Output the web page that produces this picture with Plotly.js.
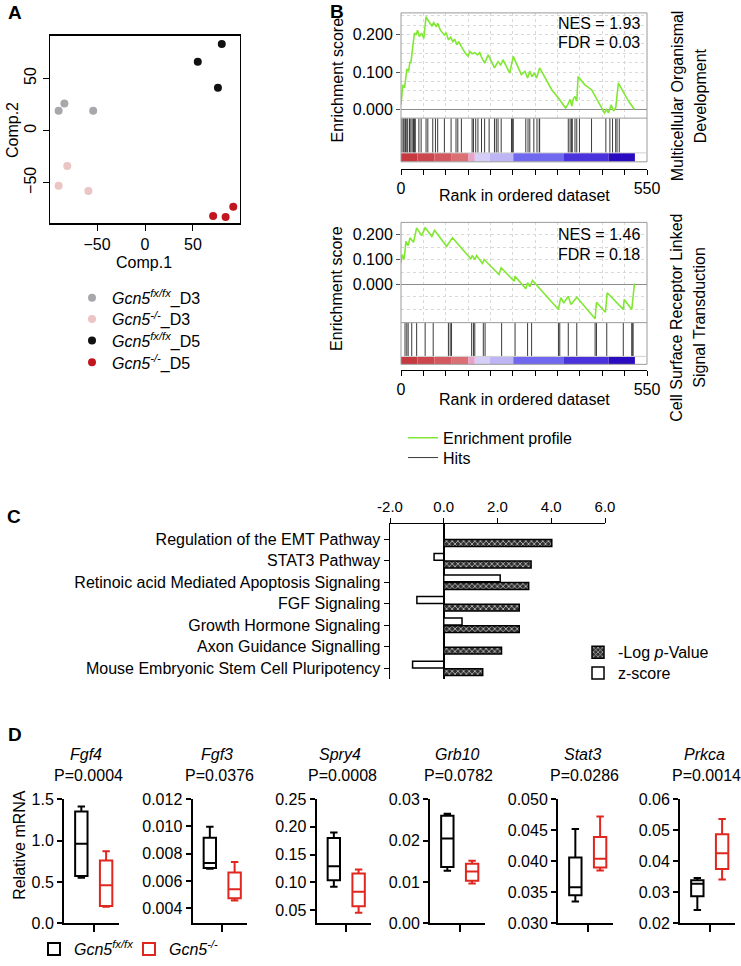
<!DOCTYPE html>
<html><head><meta charset="utf-8">
<script src="https://cdn.plot.ly/plotly-3.0.1.min.js"></script>
<style>html,body{margin:0;padding:0;background:#fff}#chart{width:741px;height:966px}</style>
</head><body><div id="chart"></div>
<script>
// ---------------- DATA ----------------
// Panel A: PCA
const pcaNames = ['<i>Gcn5</i><sup><i>fx/fx</i></sup>_D3','<i>Gcn5</i><sup><i>-/-</i></sup>_D3','<i>Gcn5</i><sup><i>fx/fx</i></sup>_D5','<i>Gcn5</i><sup><i>-/-</i></sup>_D5'];
const pcaComp1 = [[-90,-84,-54],[-90,-81,-59],[55,80,76],[71,84,92]];
const pcaComp2 = [[19,26,19],[-53,-34,-58],[66,83,41],[-82,-83,-73]];
const pcaColors = ['#a8a8ac','#ebc4c4','#111111','#c1161f'];

// Panel B: GSEA
const gsea1Rank = [0,4,8,13,17,20,22,26,30,34,37,41,46,51,56,60,64,69,73,79,82,88,97,101,106,111,116,120,125,129,135,144,150,154,159,165,171,176,181,187,195,202,209,217,223,228,243,251,263,269,277,283,288,293,298,303,310,318,337,352,368,373,378,382,385,389,393,396,411,426,434,455,460,464,470,475,480,486,494,509,522];
const gsea1ES = [0.013,0.066,0.058,0.108,0.102,0.128,0.124,0.159,0.204,0.199,0.212,0.195,0.204,0.190,0.248,0.239,0.230,0.223,0.232,0.221,0.230,0.212,0.199,0.205,0.186,0.193,0.181,0.188,0.173,0.181,0.168,0.150,0.142,0.155,0.149,0.152,0.146,0.152,0.137,0.124,0.146,0.128,0.111,0.128,0.119,0.133,0.097,0.142,0.111,0.093,0.102,0.084,0.102,0.088,0.097,0.084,0.111,0.093,0.053,0.031,0.004,0.013,0.027,0.009,0.027,0.035,0.022,0.088,0.066,0.053,0.035,-0.009,0.000,-0.009,0.013,-0.004,0.004,0.071,0.053,0.022,0.000];
const gsea1Hits = [2,5,7,10,13,15,19,22,25,28,30,32,40,45,56,60,71,77,82,97,112,123,127,135,159,162,167,172,180,187,197,209,213,217,224,247,249,251,279,284,288,297,304,309,310,374,378,381,383,389,393,399,426,458,467,473,480,483,488];
const gsea2Rank = [0,3,7,11,16,20,28,35,46,54,69,75,102,115,156,159,165,169,182,186,219,224,253,255,279,283,288,294,352,357,364,374,380,393,434,437,457,461,497,499,516,518,522];
const gsea2ES = [0.087,0.120,0.100,0.173,0.156,0.187,0.169,0.227,0.196,0.227,0.193,0.217,0.153,0.187,0.103,0.116,0.100,0.116,0.084,0.100,0.040,0.067,0.013,0.033,-0.017,0.007,-0.009,0.016,-0.100,-0.053,-0.073,-0.047,-0.080,-0.051,-0.137,-0.071,-0.111,-0.033,-0.100,-0.060,-0.100,-0.063,0.004];
const gsea2Hits = [9,13,16,24,35,54,72,106,110,113,158,162,165,184,188,225,255,283,292,352,355,374,393,434,437,460,497,516,517,519];
const rankBarStart = [0,37,75,112,150,165,198,251,363,464];
const rankBarEnd   = [37,75,112,150,165,198,251,363,464,523];
const rankBarColors = ['#c5393f','#cc474d','#d4585f','#da6f74','#e8a3c6','#d6cef7','#beb5f4','#7168f0','#4a33dc','#2b0bc0'];
const rankTickVals = [0,550];
const rankMinorTicks = [0,50,100,150,200,250,300,350,400,450,500,550];
const gseaStats = [['NES = 1.93','FDR = 0.03'],['NES = 1.46','FDR = 0.18']];
const gseaSets = [['Multicellular Organismal','Development'],['Cell Surface Receptor Linked','Signal Transduction']];

// Panel C: pathways
const pathways = ['Regulation of the EMT Pathway','STAT3 Pathway','Retinoic acid Mediated Apoptosis Signaling','FGF Signaling','Growth Hormone Signaling','Axon Guidance Signalling','Mouse Embryonic Stem Cell Pluripotency'];
const negLogP = [4.02,3.25,3.16,2.81,2.81,2.15,1.45];
const zScore  = [null,-0.36,2.10,-1.00,0.68,null,-1.16];
const pathTicks = [-2,0,2,4,6];
const pathTickText = ['-2.0','0.0','2.0','4.0','6.0'];

// Panel D: qPCR box plots  [lowerfence, q1, median, q3, upperfence]
const genes = ['Fgf4','Fgf3','Spry4','Grb10','Stat3','Prkca'];
const pValues = ['P=0.0004','P=0.0376','P=0.0008','P=0.0782','P=0.0286','P=0.0014'];
const ctrlBox = [[0.55,0.57,0.96,1.35,1.41],[0.0069,0.00695,0.00732,0.00917,0.00998],[0.092,0.104,0.129,0.180,0.190],[0.0127,0.0136,0.0205,0.0260,0.0265],[0.0335,0.0345,0.0358,0.0406,0.0452],[0.0243,0.0287,0.0327,0.0339,0.0346]];
const koBox   = [[0.20,0.21,0.46,0.76,0.87],[0.00457,0.00474,0.0054,0.00663,0.0074],[0.045,0.057,0.083,0.116,0.123],[0.0096,0.0103,0.0125,0.0144,0.0151],[0.0385,0.0390,0.0404,0.0439,0.0472],[0.0341,0.0375,0.0426,0.0487,0.0536]];
const geneTickVals = [[0,0.5,1.0,1.5],[0.004,0.006,0.008,0.010,0.012],[0.05,0.10,0.15,0.20,0.25],[0,0.01,0.02,0.03],[0.030,0.035,0.040,0.045,0.050],[0.02,0.03,0.04,0.05,0.06]];
const geneTickText = [['0.0','0.5','1.0','1.5'],['0.004','0.006','0.008','0.010','0.012'],['0.05','0.10','0.15','0.20','0.25'],['0.00','0.01','0.02','0.03'],['0.030','0.035','0.040','0.045','0.050'],['0.02','0.03','0.04','0.05','0.06']];
const geneRanges = [[0,1.5],[0.0029,0.012],[0.0262,0.25],[0,0.03],[0.03,0.05],[0.02,0.06]];
const groupNames = ['<i>Gcn5</i><sup><i>fx/fx</i></sup>','<i>Gcn5</i><sup><i>-/-</i></sup>'];

// ---------------- LAYOUT HELPERS ----------------
const W=741,H=966;
const px=x=>x/W, py=y=>1-y/H;
const dx=(a,b)=>[px(a),px(b)], dy=(top,bot)=>[py(bot),py(top)];
const FONT='Liberation Sans, Arial, Helvetica, sans-serif';
const annotations=[], shapes=[], data=[];
function ann(text,x,y,o){annotations.push(Object.assign({text:text,x:px(x),y:py(y),xref:'paper',yref:'paper',showarrow:false,xanchor:'center',yanchor:'middle',font:{family:FONT,size:16,color:'#000'}},o||{}));}
const layout={width:W,height:H,margin:{l:0,r:0,t:0,b:0},paper_bgcolor:'#fff',plot_bgcolor:'rgba(0,0,0,0)',
  font:{family:FONT,size:16,color:'#000'},showlegend:true,barmode:'group',bargap:0.3,bargroupgap:0.1,hovermode:false};
function legendAt(x,y,extra){return Object.assign({x:px(x),y:py(y),xanchor:'left',yanchor:'middle',font:{size:16,family:FONT},bgcolor:'rgba(0,0,0,0)',itemsizing:'trace'},extra||{});}

// ---------------- PANEL A ----------------
ann('<b>A</b>',15,13,{font:{family:FONT,size:19}});
const legA=['legend','legend2','legend3','legend4'], legAy=[300,321.5,343,365];
pcaNames.forEach((n,i)=>{
  data.push({type:'scatter',mode:'markers',x:pcaComp1[i],y:pcaComp2[i],name:n,
    marker:{color:pcaColors[i],size:8},xaxis:'x',yaxis:'y',legend:legA[i]});
  layout[legA[i]]=legendAt(72,legAy[i]);
});
const axA={showline:true,mirror:true,linecolor:'#000',linewidth:1.3,ticks:'outside',ticklen:6,tickcolor:'#000',
  showgrid:false,zeroline:false,tickvals:[-50,0,50],tickfont:{size:16,family:FONT}};
layout.xaxis=Object.assign({},axA,{domain:dx(50,240),range:[-99,99],anchor:'y'});
layout.yaxis=Object.assign({},axA,{domain:dy(36,225),range:[-89,91],anchor:'x',tickangle:-90});
ann('Comp.1',144,264);
ann('Comp.2',12,131,{textangle:-90});

// ---------------- PANEL B ----------------
ann('<b>B</b>',337,12,{font:{family:FONT,size:19}});
const gseaCfg=[
 {rank:gsea1Rank,es:gsea1ES,hits:gsea1Hits,top:13,esBot:119,hitBot:154,cbBot:163,axisY:170,range:[-0.023,0.258],step:0.025,xa:2,xr:3,ya:2,yh:3,yc:4,titleY:197,esTitleY:81,setY:97,nesY:24,fdrY:43},
 {rank:gsea2Rank,es:gsea2ES,hits:gsea2Hits,top:224,esBot:325,hitBot:359,cbBot:367,axisY:373,range:[-0.153,0.249],step:0.05,xa:4,xr:5,ya:5,yh:6,yc:7,titleY:402,esTitleY:291,setY:320,nesY:236,fdrY:256}
];
const L=401,R=647;
gseaCfg.forEach((c,k)=>{
  const xa='x'+c.xa, xr='x'+c.xr, ya='y'+c.ya, yh='y'+c.yh, yc='y'+c.yc;
  data.push({type:'scatter',mode:'lines',x:c.rank,y:c.es,xaxis:xa,yaxis:ya,line:{color:'#80e832',width:1.6},
    name:'Enrichment profile',legend:'legend5',showlegend:k===0});
  const hx=[],hy=[];
  c.hits.forEach(h=>{hx.push(h,h,null);hy.push(0,1,null);});
  data.push({type:'scatter',mode:'lines',x:hx,y:hy,xaxis:xr,yaxis:yh,line:{color:'#3a3a3a',width:1},
    name:'Hits',legend:'legend6',showlegend:k===0});
  data.push({type:'bar',x:rankBarStart.map((s,i)=>(s+rankBarEnd[i])/2),y:rankBarStart.map(()=>1),
    width:rankBarStart.map((s,i)=>rankBarEnd[i]-s),marker:{color:rankBarColors,line:{width:0}},
    xaxis:xr,yaxis:yc,showlegend:false});
  layout['xaxis'+c.xa]={domain:dx(L,R),range:[0,550],anchor:ya,showline:false,showticklabels:false,ticks:'',
    tickvals:rankMinorTicks,showgrid:true,gridcolor:'#d9d9d9',griddash:'dot',gridwidth:1,zeroline:false};
  layout['yaxis'+c.ya]={domain:dy(c.top,c.esBot),range:c.range,anchor:xa,tickvals:[0,0.1,0.2],ticktext:['0.000','0.100','0.200'],
    ticks:'outside',ticklen:4,tickcolor:'#555',tickfont:{size:16,family:FONT},showline:false,
    showgrid:true,gridcolor:'#d9d9d9',griddash:'dot',minor:{dtick:c.step,tick0:0,showgrid:true,gridcolor:'#d9d9d9',griddash:'dot'},
    zeroline:true,zerolinecolor:'#8c8c8c',zerolinewidth:1};
  layout['xaxis'+c.xr]={domain:dx(L,R),range:[0,550],anchor:'free',position:py(c.axisY),showline:true,linecolor:'#000',linewidth:1,
    ticks:'outside',ticklen:5,tickcolor:'#000',tickvals:rankTickVals,ticktext:rankTickVals.map(String),
    minor:{tickmode:'array',tickvals:rankMinorTicks,ticks:'outside',ticklen:5,tickcolor:'#000',showgrid:false},
    tickfont:{size:16,family:FONT},showgrid:false,zeroline:false};
  layout['yaxis'+c.yh]={domain:dy(c.esBot,c.hitBot),range:[0,1],anchor:xr,visible:false};
  layout['yaxis'+c.yc]={domain:dy(c.hitBot,c.cbBot),range:[0,1],anchor:xr,visible:false};
  shapes.push({type:'rect',xref:'paper',yref:'paper',x0:px(L),x1:px(R),y0:py(c.cbBot),y1:py(c.top),line:{color:'#9a9a9a',width:1}});
  shapes.push({type:'line',xref:'paper',yref:'paper',x0:px(L),x1:px(R),y0:py(c.esBot),y1:py(c.esBot),line:{color:'#9a9a9a',width:1}});
  shapes.push({type:'line',xref:'paper',yref:'paper',x0:px(L),x1:px(R),y0:py(c.hitBot),y1:py(c.hitBot),line:{color:'#cfcfcf',width:1}});
  ann(gseaStats[k][0],642,c.nesY,{xanchor:'right'});
  ann(gseaStats[k][1],642,c.fdrY,{xanchor:'right'});
  ann('Rank in ordered dataset',524,c.titleY);
  ann('Enrichment score',337,c.esTitleY,{textangle:-90});
  ann(gseaSets[k][0],677,c.setY,{textangle:-90});
  ann(gseaSets[k][1],700,c.setY,{textangle:-90});
});
layout.legend5=legendAt(403,441);
layout.legend6=legendAt(403,461);

// ---------------- PANEL C ----------------
ann('<b>C</b>',14,520,{font:{family:FONT,size:19}});
data.push({type:'bar',orientation:'h',x:zScore,y:pathways,name:'z-score',xaxis:'x6',yaxis:'y8',legend:'legend7',
  marker:{color:'#ffffff',line:{color:'#000',width:1.5}}});
data.push({type:'bar',orientation:'h',x:negLogP,y:pathways,name:'-Log <i>p</i>-Value',xaxis:'x6',yaxis:'y8',legend:'legend9',
  marker:{color:'#2e2e2e',line:{color:'#000',width:1.5},pattern:{shape:'x',fgcolor:'#c8c8c8',bgcolor:'#2e2e2e',size:4,solidity:0.35}}});
layout.xaxis6={domain:dx(390,605),range:[-2,6],side:'top',anchor:'y8',tickvals:pathTicks,ticktext:pathTickText,ticks:'outside',ticklen:5,
  tickcolor:'#000',showline:true,linecolor:'#000',linewidth:1.5,zeroline:true,zerolinecolor:'#000',zerolinewidth:1.5,showgrid:false,
  tickfont:{family:FONT,size:15}};
layout.yaxis8={domain:dy(528,684),type:'category',categoryarray:pathways,categoryorder:'array',autorange:false,range:[6.5,-0.7],anchor:'x6',
  showline:true,linecolor:'#000',linewidth:1.5,ticks:'outside',ticklen:5,tickcolor:'#000',showgrid:false,zeroline:false,
  tickfont:{family:FONT,size:16}};
layout.legend9=legendAt(578,657,{font:{size:16,family:FONT}});
layout.legend7=legendAt(578,678,{font:{size:16,family:FONT}});

// ---------------- PANEL D ----------------
ann('<b>D</b>',15,740,{font:{family:FONT,size:19}});
const dLeft=[64,192.5,316.5,430,558,680], dW=54.5;
const titleX=[86,217,340,457,582,704];
genes.forEach((g,i)=>{
  const xn=7+i, yn=9+i;
  [[ctrlBox[i],'#000',0,groupNames[0]],[koBox[i],'#e0261f',1,groupNames[1]]].forEach(([b,col,pos,nm])=>{
    data.push({type:'box',x:[pos],lowerfence:[b[0]],q1:[b[1]],median:[b[2]],q3:[b[3]],upperfence:[b[4]],
      width:0.5,whiskerwidth:0.6,line:{color:col,width:2},fillcolor:'rgba(255,255,255,0)',
      xaxis:'x'+xn,yaxis:'y'+yn,name:nm,legend:'legend8',showlegend:i===0});
  });
  layout['xaxis'+xn]={domain:dx(dLeft[i],dLeft[i]+dW),range:[-0.7,1.5],anchor:'y'+yn,tickvals:[0.5],showticklabels:false,ticks:'outside',
    ticklen:7,tickwidth:2,tickcolor:'#000',showline:true,linecolor:'#000',linewidth:2,showgrid:false,zeroline:false};
  layout['yaxis'+yn]={domain:dy(805,930),range:geneRanges[i],anchor:'x'+xn,tickvals:geneTickVals[i],ticktext:geneTickText[i],
    ticks:'outside',ticklen:5,tickwidth:2,tickcolor:'#000',showline:true,linecolor:'#000',linewidth:2,showgrid:false,zeroline:false,
    tickfont:{size:16,family:FONT}};
  ann('<i>'+g+'</i>',titleX[i],760);
  ann(pValues[i],titleX[i]+2,781);
});
ann('Relative mRNA',20,851,{textangle:-90});
layout.legend8={x:px(34),y:py(956),xanchor:'left',yanchor:'middle',orientation:'h',font:{size:16,family:FONT},bgcolor:'rgba(0,0,0,0)',
  entrywidth:50,entrywidthmode:'pixels'};

layout.annotations=annotations; layout.shapes=shapes;
Plotly.newPlot('chart',data,layout,{staticPlot:true,displayModeBar:false});
</script></body></html>
